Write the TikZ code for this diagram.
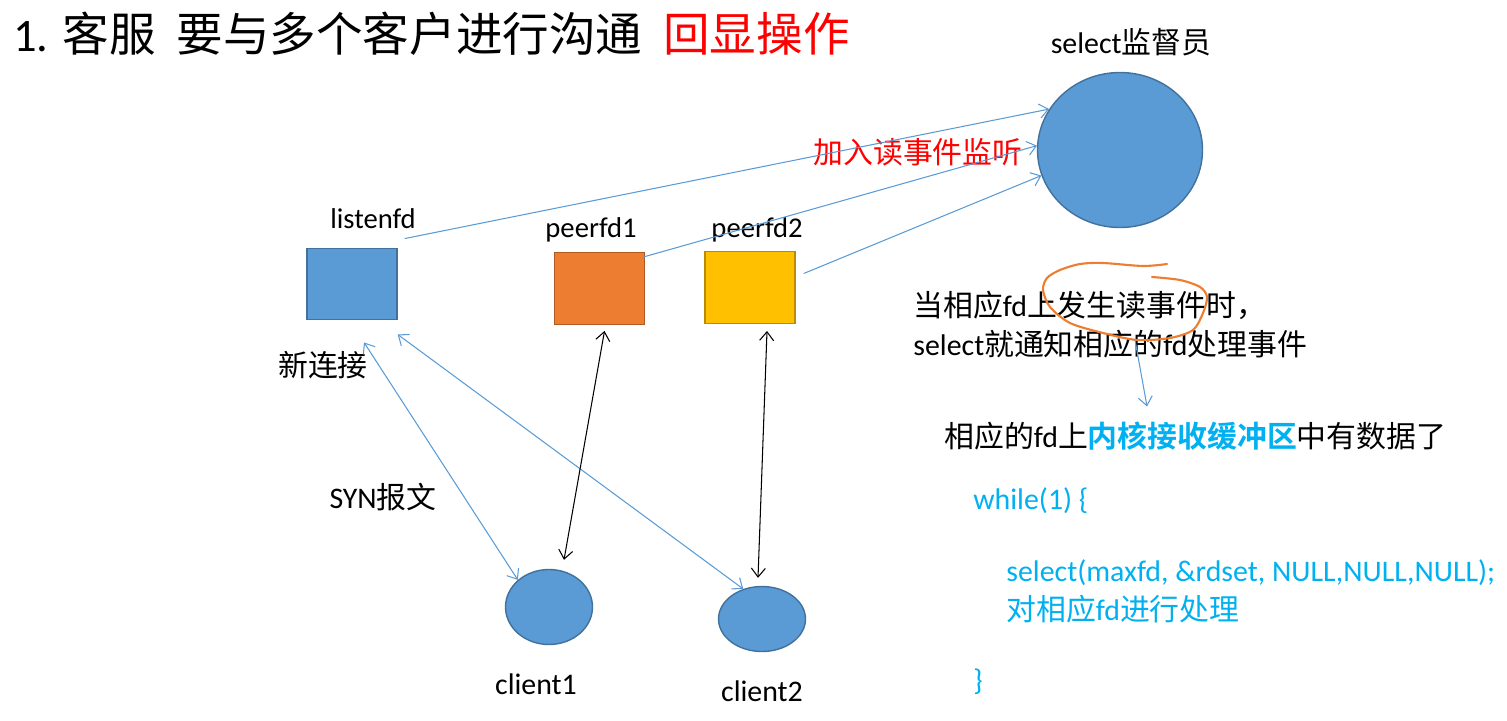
\documentclass[tikz,border=0pt]{standalone}
\usepackage{fontspec}
\setmainfont{Carlito}
\newfontfamily\cjk{Noto Sans CJK SC}[BoldFont={Noto Sans CJK SC Bold}]
\usetikzlibrary{arrows.meta,shapes.geometric}
\definecolor{fdblue}{RGB}{91,155,213}
\definecolor{fdblueOutl}{RGB}{65,113,156}
\definecolor{fdorange}{RGB}{237,125,49}
\definecolor{fdorangeOutl}{RGB}{174,90,33}
\definecolor{fdyellow}{RGB}{255,192,0}
\definecolor{fdyellowOutl}{RGB}{188,140,0}
\definecolor{codecyan}{RGB}{0,176,240}
\newcommand{\zh}[1]{{\cjk #1}}
\tikzset{>={Straight Barb[length=5pt,width=8pt]}}
\tikzset{
  fdbox/.style={draw=#1Outl, fill=#1, line width=0.8pt, minimum width=1.8cm, minimum height=1.43cm, inner sep=0pt},
  ball/.style={ellipse, draw=fdblueOutl, fill=fdblue, line width=0.8pt, inner sep=0pt},
  txt/.style={inner sep=0pt, font=\fontsize{17}{20}\selectfont},
  lbl/.style={inner sep=0pt, font=\fontsize{16.3}{20}\selectfont},
  code/.style={inner sep=0pt, anchor=west, text=codecyan, font=\fontsize{17}{20}\selectfont},
  feed/.style={->, draw=fdblue, line width=0.6pt},
  blink/.style={<->, draw=fdblue, line width=0.6pt},
  klink/.style={<->, draw=black, line width=0.6pt}
}

\begin{document}
\begin{tikzpicture}[x=0.02cm, y=-0.02cm]
  \useasboundingbox (0,0) rectangle (1507,720);
  \node[anchor=west, inner sep=0pt, font=\fontsize{26.5}{30}\selectfont] (title) at (13,34) {1. \zh{客服}\hspace{0.45em}\zh{要与多个客户进行沟通}\hspace{0.45em}\zh{\color{red}回显操作}};

  % select and the fds
  \node[ball, minimum width=3.3cm, minimum height=3.1cm] (sel) at (1120,150) {};
  \node[txt] (selname) at (1131,42) {select\zh{监督员}};
  \node[txt, text=red] (addtxt) at (918,152) {\zh{加入读事件监听}};
  \node[fdbox=fdblue] (listen) at (352,284) {};
  \node[fdbox=fdorange] (peer1) at (599.5,288.5) {};
  \node[fdbox=fdyellow] (peer2) at (750,287.5) {};
  \node[lbl] (listenname) at (373,219) {listenfd};
  \node[lbl] (peer1name) at (591,230) {peerfd1};
  \node[lbl] (peer2name) at (757,230) {peerfd2};
  \node[txt] (newconn) at (323,365) {\zh{新连接}};
  \node[txt] (syn) at (383,497) {SYN\zh{报文}};

  % clients
  \node[ball, minimum width=1.74cm, minimum height=1.5cm] (c1) at (549,607) {};
  \node[ball, minimum width=1.74cm, minimum height=1.3cm] (c2) at (762,619) {};
  \node[txt] (c1name) at (536,684) {client1};
  \node[txt] (c2name) at (762,691) {client2};

  \draw[feed] ([shift={(7,-9)}]listen.north east) -- (sel.150);
  \draw[feed] ([shift={(-2,5)}]peer1.north east) -- (sel.177);
  \draw[feed] ([shift={(8,-14)}]peer2.east) -- (sel.198);
  \draw[blink] ([shift={(12,22)}]listen.south) -- (c1.139);
  \draw[blink] ([shift={(0,14)}]listen.south east) -- (c2.122);
  \draw[klink] ([shift={(5,6)}]peer1.south) -- ([shift={(15,-9)}]c1.north);
  \draw[klink] ([shift={(17,7)}]peer2.south) -- ([shift={(-4,-8)}]c2.north);

  % right hand notes
  \node[txt, anchor=west, align=left, font=\fontsize{17}{22.2}\selectfont] (notify) at (913,325) {\zh{当相应}fd\zh{上发生读事件时，}\\select\zh{就通知相应的}fd\zh{处理事件}};
  \draw[fdorange, line width=1.2pt, line cap=round] plot[smooth] coordinates {(1167,264) (1143,266) (1103,263) (1080,264) (1060,270) (1047,278) (1043,290) (1050,307) (1070,323) (1103,333) (1137,340) (1170,338) (1193,330) (1203,313) (1207,297) (1200,287) (1180,280) (1152,277)};
  \node[anchor=west, inner sep=0pt, font=\fontsize{17}{20}\selectfont] (buf) at (944,436) {\zh{相应的}fd\zh{上{\bfseries\color{codecyan}内核接收缓冲区}中有数据了}};
  \coordinate (hint) at (1135,340);
  \draw[feed] (hint) -- ([shift={(203,-15)}]buf.north west);

  \node[code] (loop) at (973,501) {while(1) \{};
  \node[code] (call) at (1006,573) {select(maxfd, \&rdset, NULL,NULL,NULL);};
  \node[code] (handle) at (1006,609) {\zh{对相应}fd\zh{进行处理}};
  \node[code] (close) at (973,682) {\}};
\end{tikzpicture}
\end{document}
